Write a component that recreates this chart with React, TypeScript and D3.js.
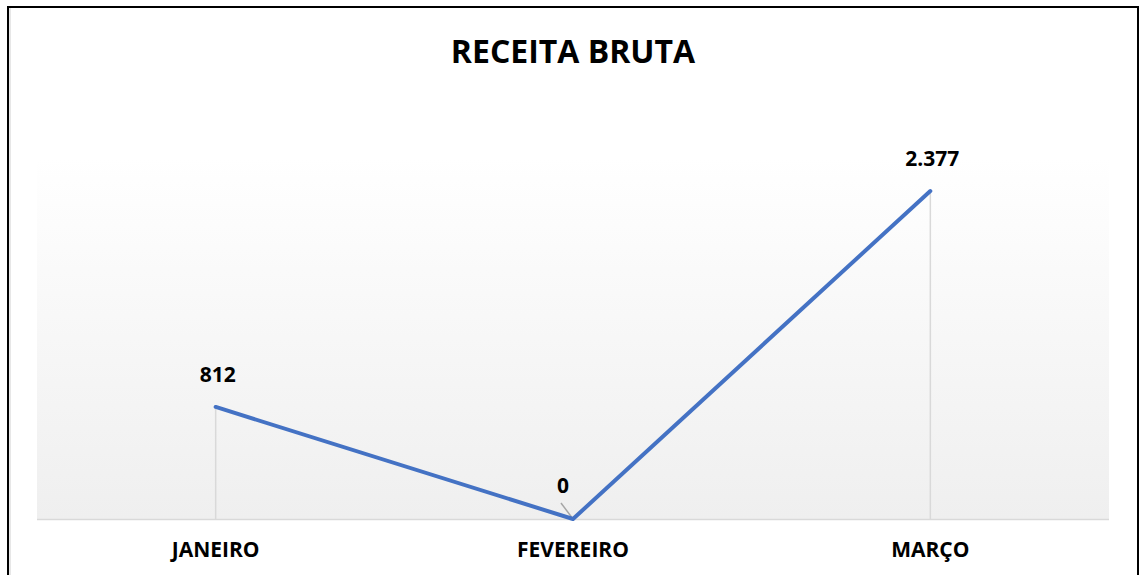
import React from "react";
import * as d3 from "d3";

const categories = ["JANEIRO", "FEVEREIRO", "MARÇO"];
const values = [812, 0, 2377];
const valueLabels = ["812", "0", "2.377"];
const title = "RECEITA BRUTA";

const W = 1145;
const H = 575;
const plot = { left: 37, right: 1109, top: 157, bottom: 519 };
const FONT = "'Open Sans', 'DejaVu Sans', sans-serif";

export default function App() {
  const x = d3
    .scaleBand<string>()
    .domain(categories)
    .range([plot.left, plot.right])
    .padding(0);
  const y = d3.scaleLinear().domain([0, 2377]).range([plot.bottom, 191]);

  const cx = (c: string) => (x(c) ?? 0) + x.bandwidth() / 2;
  const pts: [number, number][] = categories.map((c, i) => [cx(c), y(values[i])]);
  const line = d3.line<[number, number]>()(pts) ?? "";

  return (
    <svg
      width={W}
      height={H}
      style={{ position: "absolute", left: 0, top: 0, display: "block" }}
    >
      <defs>
        <linearGradient id="bg" x1="0" y1="0" x2="0" y2="1">
          <stop offset="0%" stopColor="#ffffff" />
          <stop offset="100%" stopColor="#efefef" />
        </linearGradient>
      </defs>
      <rect x={0} y={0} width={W} height={H} fill="#ffffff" />
      <rect
        x={plot.left}
        y={plot.top}
        width={plot.right - plot.left}
        height={plot.bottom - plot.top}
        fill="url(#bg)"
      />
      {/* drop lines */}
      {categories.map((c, i) => (
        <line
          key={"d" + c}
          x1={cx(c)}
          x2={cx(c)}
          y1={y(values[i])}
          y2={plot.bottom}
          stroke="#d9d9d9"
          strokeWidth={1.5}
        />
      ))}
      {/* axis line */}
      <line
        x1={plot.left}
        x2={plot.right}
        y1={plot.bottom + 0.5}
        y2={plot.bottom + 0.5}
        stroke="#d9d9d9"
        strokeWidth={1.5}
      />
      {/* leader line for 0 */}
      <line
        x1={cx(categories[1]) - 12}
        y1={y(values[1]) - 16}
        x2={cx(categories[1])}
        y2={y(values[1])}
        stroke="#a6a6a6"
        strokeWidth={1.5}
      />
      <path
        d={line}
        fill="none"
        stroke="#4472c4"
        strokeWidth={4}
        strokeLinecap="round"
        strokeLinejoin="round"
      />
      {/* value labels */}
      {categories.map((c, i) => {
        const dx = i === 1 ? -10 : 2;
        const dy = i === 1 ? -26 : -25;
        return (
          <text
            key={"v" + c}
            x={cx(c) + dx}
            y={y(values[i]) + dy}
            textAnchor="middle"
            fontFamily={FONT}
            fontWeight="bold"
            fontSize={21}
            fill="#000"
          >
            {valueLabels[i]}
          </text>
        );
      })}
      {/* category labels */}
      {categories.map((c) => (
        <text
          key={"c" + c}
          x={cx(c)}
          y={557}
          textAnchor="middle"
          fontFamily={FONT}
          fontWeight="bold"
          fontSize={21}
          fill="#000"
        >
          {c}
        </text>
      ))}
      <text
        x={573}
        y={63}
        textAnchor="middle"
        fontFamily={FONT}
        fontWeight="bold"
        fontSize={32}
        fill="#000"
      >
        {title}
      </text>
      {/* border */}
      <line x1={10} x2={10} y1={8} y2={H} stroke="#d0d0d0" strokeWidth={1} />
      <rect
        x={8}
        y={7}
        width={1130}
        height={H + 10}
        fill="none"
        stroke="#000"
        strokeWidth={2}
      />
    </svg>
  );
}
